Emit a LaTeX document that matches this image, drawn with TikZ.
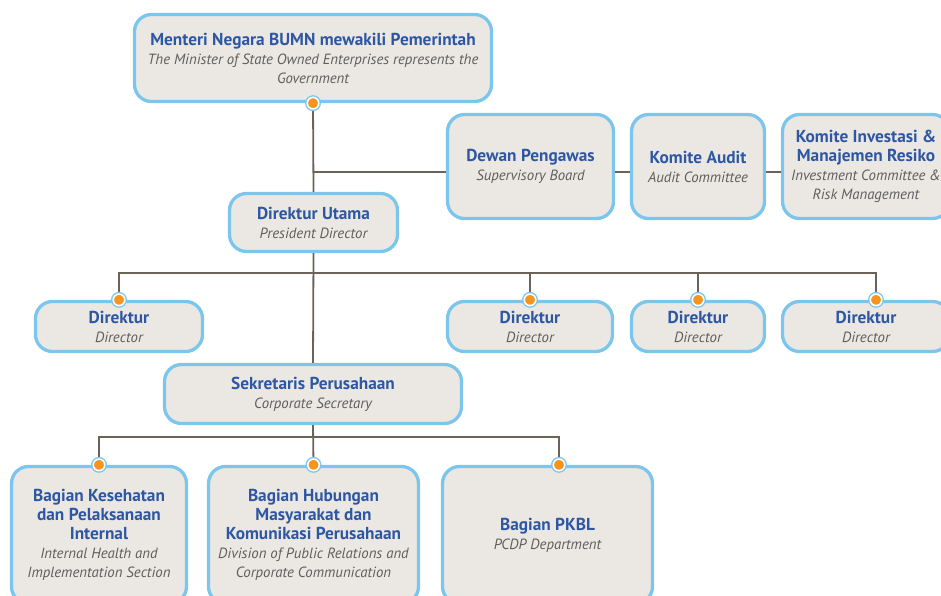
\documentclass[tikz,border=0pt]{standalone}
\usepackage{fontspec}
\setmainfont{PT Sans}
\definecolor{boxblue}{HTML}{7CC6EE}
\definecolor{boxfill}{HTML}{EBE8E3}
\definecolor{titleblue}{HTML}{2E57A3}
\definecolor{rolegrey}{HTML}{5E5E5E}
\definecolor{linegrey}{HTML}{6B6358}
\definecolor{dotorange}{HTML}{F7941D}
\newcommand{\orghead}[1]{{\fontsize{17.3}{19}\selectfont\color{titleblue}\bfseries #1}}
\newcommand{\orgrole}[1]{{\fontsize{14.8}{19}\selectfont\color{rolegrey}\itshape #1}}
\tikzset{
  box/.style={draw=boxblue, line width=3.3pt, fill=boxfill, rounded corners=17pt,
    align=center, inner sep=0pt, font=\fontsize{14.8}{19}\selectfont},
  conn/.style={draw=linegrey, line width=1.8pt},
  knob/.style={circle, fill=dotorange, draw=white, line width=1.6pt,
    minimum size=11.5pt, inner sep=0pt, preaction={draw=boxblue, line width=4.4pt}},
}
\begin{document}
\begin{tikzpicture}[x=1pt, y=-1pt]
\useasboundingbox (0,0) rectangle (941,596);
\clip (0,0) rectangle (941,596);

% --- boxes ---
\node[box, minimum width=357pt, minimum height=87pt] (min) at (313,58)
  {\orghead{Menteri Negara BUMN mewakili Pemerintah}\\
   \orgrole{The Minister of State Owned Enterprises represents the}\\
   \orgrole{Government}};
\node[box, minimum width=166pt, minimum height=104pt] (dp) at (530.5,166.5)
  {\orghead{Dewan Pengawas}\\\orgrole{Supervisory Board}};
\node[box, minimum width=133pt, minimum height=104pt] (ka) at (698,166.5)
  {\orghead{Komite Audit}\\\orgrole{Audit Committee}};
\node[box, minimum width=167pt, minimum height=104pt] (ki) at (866,166.5)
  {\orghead{Komite Investasi \&}\\\orghead{Manajemen Resiko}\\
   \orgrole{Investment Committee \&}\\\orgrole{Risk Management}};
\node[box, minimum width=168pt, minimum height=58pt] (du) at (313.5,222.5)
  {\orghead{Direktur Utama}\\\orgrole{President Director}};

\node[box, minimum width=167pt, minimum height=50pt] (d1) at (119,326.5)
  {\orghead{Direktur}\\\orgrole{Director}};
\node[box, minimum width=165pt, minimum height=50pt] (d2) at (530,326.5)
  {\orghead{Direktur}\\\orgrole{Director}};
\node[box, minimum width=133pt, minimum height=50pt] (d3) at (698,326.5)
  {\orghead{Direktur}\\\orgrole{Director}};
\node[box, minimum width=167pt, minimum height=50pt] (d4) at (866,326.5)
  {\orghead{Direktur}\\\orgrole{Director}};

\node[box, minimum width=297pt, minimum height=59pt] (sk) at (313,394)
  {\orghead{Sekretaris Perusahaan}\\\orgrole{Corporate Secretary}};

\node[box, minimum width=175pt, minimum height=137pt] (b1) at (99,535)
  {\orghead{Bagian Kesehatan}\\\orghead{dan Pelaksanaan}\\\orghead{Internal}\\
   \orgrole{Internal Health and}\\\orgrole{Implementation Section}};
\node[box, minimum width=210pt, minimum height=137pt] (b2) at (313.5,535)
  {\orghead{Bagian Hubungan}\\\orghead{Masyarakat dan}\\\orghead{Komunikasi Perusahaan}\\
   \orgrole{Division of Public Relations and}\\\orgrole{Corporate Communication}};
\node[box, minimum width=210pt, minimum height=137pt] (b3) at (547.5,535)
  {\orghead{Bagian PKBL}\\\orgrole{PCDP Department}};

% --- connectors ---
\coordinate (sup) at (313,172);
\coordinate (bus) at (313,273);
\coordinate (bus2) at (313,437);
\coordinate (d4in) at ([xshift=10pt]d4.north);
\coordinate (b3in) at ([xshift=11.5pt]b3.north);

\draw[conn] (min.south) -- (du.north);
\draw[conn] (du.south) -- (sk.north);
\draw[conn] (sk.south) -- (b2.north);
\draw[conn] (sup) -- (sup -| dp.west);
\draw[conn] (sup -| dp.east) -- (sup -| ka.west);
\draw[conn] (sup -| ka.east) -- (sup -| ki.west);
\draw[conn] (d1.north) |- (bus) -| (d4in);
\draw[conn] (bus -| d2.north) -- (d2.north);
\draw[conn] (bus -| d3.north) -- (d3.north);
\draw[conn] (b1.north) |- (bus2) -| (b3in);

% --- connection knobs ---
\node[knob] (k0) at (min.south) {};
\node[knob] (k1) at (d1.north) {};
\node[knob] (k2) at (d2.north) {};
\node[knob] (k3) at (d3.north) {};
\node[knob] (k4) at (d4in) {};
\node[knob] (k5) at (b1.north) {};
\node[knob] (k6) at (b2.north) {};
\node[knob] (k7) at (b3in) {};
\end{tikzpicture}
\end{document}
